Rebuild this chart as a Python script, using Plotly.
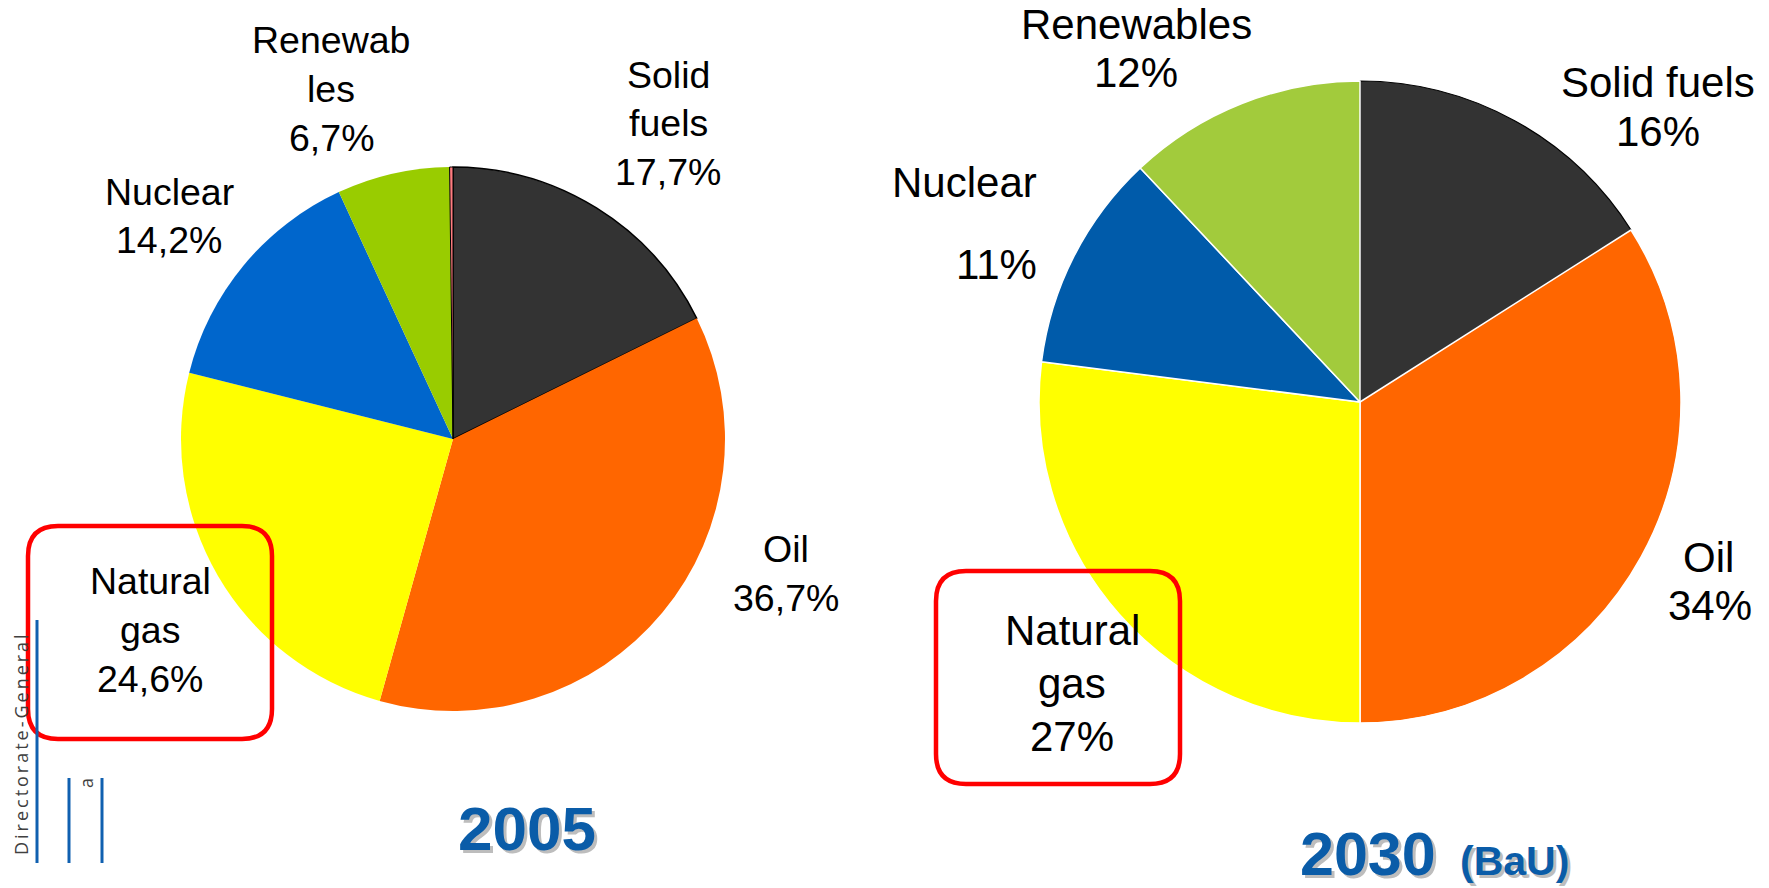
import plotly.graph_objects as go

W, H = 1769, 888

# ---------------- data ----------------
sources_2005 = ["Solid fuels", "Oil", "Natural gas", "Nuclear", "Renewables", "Other"]
shares_2005 = [17.7, 36.7, 24.6, 14.2, 6.7, 0.2]
colors_2005 = ["#333333", "#FF6600", "#FFFF00", "#0066CC", "#99CC00", "#FF7C80"]

sources_2030 = ["Solid fuels", "Oil", "Natural gas", "Nuclear", "Renewables"]
shares_2030 = [16, 34, 27, 11, 12]
colors_2030 = ["#333333", "#FF6600", "#FFFF00", "#005BAA", "#A2CB3C"]

# label text lines (as printed on the slide)
label_lines_2005 = {
    "Solid fuels": ["Solid", "fuels"],
    "Oil": ["Oil"],
    "Natural gas": ["Natural", "gas"],
    "Nuclear": ["Nuclear"],
    "Renewables": ["Renewab", "les"],
}
label_lines_2030 = {
    "Solid fuels": ["Solid fuels"],
    "Oil": ["Oil"],
    "Natural gas": ["Natural", "gas"],
    "Nuclear": ["Nuclear"],
    "Renewables": ["Renewables"],
}
display_2005 = {"Solid fuels": "17,7%", "Oil": "36,7%", "Natural gas": "24,6%",
                "Nuclear": "14,2%", "Renewables": "6,7%"}

# ---------------- layout helpers ----------------
def px(x):
    return x / W

def py(y):
    return 1 - y / H

FONT = "Liberation Sans, Arial, sans-serif"
BLUE = "#0A5CA8"

fig = go.Figure()

def pie_domain(cx, cy, r):
    return dict(x=[px(cx - r), px(cx + r)], y=[py(cy + r), py(cy - r)])

fig.add_trace(go.Pie(
    labels=sources_2005, values=shares_2005, sort=False, direction="clockwise",
    rotation=0, textinfo="none", hoverinfo="label+percent",
    marker=dict(colors=colors_2005,
                line=dict(color=["#000000", "#FFFFFF", "#FFFFFF", "#FFFFFF", "#FFFFFF", "#000000"],
                          width=[1.5, 0, 0, 0, 0, 1])),
    domain=pie_domain(453, 439, 272), showlegend=False,
))

fig.add_trace(go.Pie(
    labels=sources_2030, values=shares_2030, sort=False, direction="clockwise",
    rotation=0, textinfo="none", hoverinfo="label+percent",
    marker=dict(colors=colors_2030,
                line=dict(color=["#000000", "#FFFFFF", "#FFFFFF", "#FFFFFF", "#FFFFFF"],
                          width=[1.2, 1.5, 1.5, 1.5, 1.5])),
    domain=pie_domain(1360, 402, 321), showlegend=False,
))

annotations = []

def add_text(text, x, y, size, color="black", bold=False, angle=0, family=FONT):
    t = f"<b>{text}</b>" if bold else text
    annotations.append(dict(
        text=t, x=px(x), y=py(y), xref="paper", yref="paper",
        xanchor="center", yanchor="middle", showarrow=False,
        textangle=angle, font=dict(family=family, size=size, color=color),
    ))

def fmt2030(v):
    return f"{v:g}%"

# positions of each label: (x centre, [y centre of each line])
pos_2005 = {
    "Solid fuels": (668, [75, 123, 172]),
    "Oil": (786, [549, 598]),
    "Natural gas": (150, [581, 630, 679]),
    "Nuclear": (169, [192, 240]),
    "Renewables": (331, [40, 89, 138]),
}
for name in sources_2005:
    if name not in label_lines_2005:
        continue
    lines = label_lines_2005[name] + [display_2005[name]]
    x, ys = pos_2005[name]
    for line, y in zip(lines, ys):
        add_text(line, x, y, 37.5)

pos_2030 = {
    "Solid fuels": ([1658, 1658], [82, 131]),
    "Oil": ([1708, 1710], [557, 605]),
    "Natural gas": ([1072, 1072, 1072], [630, 683, 736]),
    "Nuclear": ([965, 996], [182, 264]),
    "Renewables": ([1136, 1136], [25, 72]),
}
for name, v in zip(sources_2030, shares_2030):
    lines = label_lines_2030[name] + [fmt2030(v)]
    xs, ys = pos_2030[name]
    for line, x, y in zip(lines, xs, ys):
        add_text(line, x, y, 42)

# titles with soft shadow
def shadow_title(text, x, y, size):
    add_text(text, x + 3, y + 3, size, color="#BDBDBD", bold=True)
    add_text(text, x, y, size, color=BLUE, bold=True)

shadow_title("2005", 527, 828, 62)
shadow_title("2030", 1368, 854, 61)
shadow_title("(BaU)", 1514, 861, 41)

# side decoration text
add_text("D\u2009i\u2009r\u2009e\u2009c\u2009t\u2009o\u2009r\u2009a\u2009t\u2009e\u2009-\u2009G\u2009e\u2009n\u2009e\u2009r\u2009a\u2009l",
         21, 745, 18, color="#404040", angle=-90, family="Open Sans, sans-serif")
add_text("a", 86, 783, 18, color="#404040", angle=-90, family="Open Sans, sans-serif")

shapes = []

def rounded_box(x0, y0, x1, y1, r, color, width):
    p = (f"M {px(x0 + r)} {py(y0)} L {px(x1 - r)} {py(y0)} "
         f"Q {px(x1)} {py(y0)} {px(x1)} {py(y0 + r)} "
         f"L {px(x1)} {py(y1 - r)} "
         f"Q {px(x1)} {py(y1)} {px(x1 - r)} {py(y1)} "
         f"L {px(x0 + r)} {py(y1)} "
         f"Q {px(x0)} {py(y1)} {px(x0)} {py(y1 - r)} "
         f"L {px(x0)} {py(y0 + r)} "
         f"Q {px(x0)} {py(y0)} {px(x0 + r)} {py(y0)} Z")
    shapes.append(dict(type="path", path=p, xref="paper", yref="paper",
                       line=dict(color=color, width=width), fillcolor="rgba(0,0,0,0)"))

rounded_box(28, 526, 272, 739, 30, "#FF0000", 4.5)
rounded_box(936, 571, 1180, 784, 30, "#FF0000", 4.5)

def vline(x, y0, y1):
    shapes.append(dict(type="line", xref="paper", yref="paper",
                       x0=px(x), x1=px(x), y0=py(y0), y1=py(y1),
                       line=dict(color="#1060B0", width=3)))

vline(37, 620, 863)
vline(69, 778, 863)
vline(102, 778, 863)

fig.update_layout(
    width=W, height=H, margin=dict(l=0, r=0, t=0, b=0),
    paper_bgcolor="white", plot_bgcolor="white",
    annotations=annotations, shapes=shapes,
)

fig.write_html(
    "out.html",
    config={"displayModeBar": False},
    post_script="document.body.style.margin='0';document.body.style.overflow='hidden';",
)
